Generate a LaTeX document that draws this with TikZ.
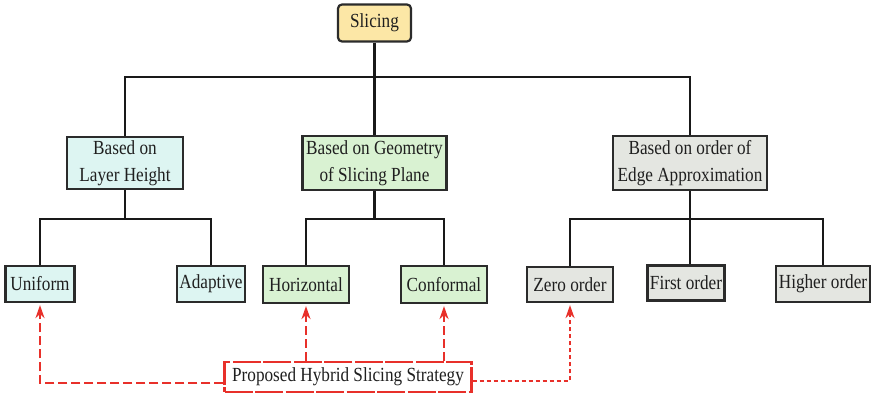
\documentclass[tikz,border=0pt]{standalone}
\usepackage{fontspec}
\setmainfont{Liberation Serif}[FakeStretch=0.86]
\usetikzlibrary{arrows.meta}

\definecolor{rootfill}{HTML}{FCE7A6}
\definecolor{cyanfill}{HTML}{DDF5F2}
\definecolor{greenfill}{HTML}{D9F2D2}
\definecolor{grayfill}{HTML}{E4E6E1}
\definecolor{boxline}{HTML}{2B2B2B}
\definecolor{hybridred}{HTML}{E8302A}

\tikzset{
  box/.style={draw=boxline, line width=2.2pt, align=center, inner sep=0pt,
    text=black!88, font=\fontsize{20}{26.5}\selectfont},
  rootbox/.style={box, fill=rootfill, rounded corners=4pt},
  cyanbox/.style={box, fill=cyanfill},
  greenbox/.style={box, fill=greenfill},
  graybox/.style={box, fill=grayfill},
  hybridbox/.style={box, draw=hybridred, line width=2.4pt, fill=white,
    dash pattern=on 28pt off 2.5pt},
  tree/.style={draw=black!90, line width=2.6pt},
  dashlink/.style={draw=hybridred, line width=2.4pt, dash pattern=on 9pt off 4pt,
    -{Stealth[length=13pt,width=9pt]}},
  dotlink/.style={draw=hybridred, line width=2.4pt, dash pattern=on 4pt off 3pt,
    -{Stealth[length=13pt,width=9pt]}},
  sz/.style n args={2}{minimum width=#1pt, minimum height=#2pt},
}

\begin{document}
\begin{tikzpicture}[x=1pt, y=-1pt]
  \useasboundingbox (0,0) rectangle (874,395);

  % root
  \node[rootbox, sz={73}{37}] (root) at (374.5,23) {Slicing};

  % second level
  \node[cyanbox,  sz={116}{52}] (layer) at (125,163) {Based on\\Layer Height};
  \node[greenbox, sz={144}{54}] (geom)  at (374.5,163) {Based on Geometry\\of Slicing Plane};
  \node[graybox,  sz={154}{54}] (edge)  at (690,163) {Based on order of\\Edge Approximation};

  % leaves
  \node[cyanbox,  sz={69}{36}] (unif)  at (40,284)    {Uniform};
  \node[cyanbox,  sz={68}{36}] (adapt) at (211,284)   {Adaptive};
  \node[greenbox, sz={86}{37}] (horiz) at (306,284.5) {Horizontal};
  \node[greenbox, sz={86}{37}] (conf)  at (444,284.5) {Conformal};
  \node[graybox,  sz={86}{35}] (zero)  at (570,284.5) {Zero order};
  \node[graybox,  sz={77}{35}] (first) at (686,283)   {First order};
  \node[graybox,  sz={94}{36}] (high)  at (823,284)   {Higher order};

  % hybrid strategy
  \node[hybridbox, sz={247}{30}] (hyb) at (348,377) {Proposed Hybrid Slicing Strategy};

  % tree junctions
  \coordinate (j0) at (374.5,77);
  \coordinate (j1) at (125,219);
  \coordinate (j2) at (374.5,219);
  \coordinate (j3) at (690,219);

  % tree connectors
  \draw[tree] (root.south) -- (j0);
  \draw[tree] (layer.north) |- (j0) -| (edge.north);
  \draw[tree] (j0) -- (geom.north);

  \draw[tree] (layer.south) -- (j1);
  \draw[tree] (unif.north) |- (j1) -| (adapt.north);

  \draw[tree] (geom.south) -- (j2);
  \draw[tree] (horiz.north) |- (j2) -| (conf.north);

  \draw[tree] (edge.south) -- (j3);
  \draw[tree] (zero.north) |- (j3) -| (high.north);
  \draw[tree] (j3) -- (first.north -| j3);

  % hybrid strategy links
  \draw[dashlink] ([yshift=-6pt]hyb.west) -| ([yshift=-2pt]unif.south);
  \draw[dashlink] (hyb.north -| horiz.south) -- ([yshift=-2pt]horiz.south);
  \draw[dashlink] (hyb.north -| conf.south) -- ([yshift=-2pt]conf.south);
  \draw[dotlink] ([yshift=-4pt]hyb.east) -| ([yshift=-2pt]zero.south);
\end{tikzpicture}
\end{document}
